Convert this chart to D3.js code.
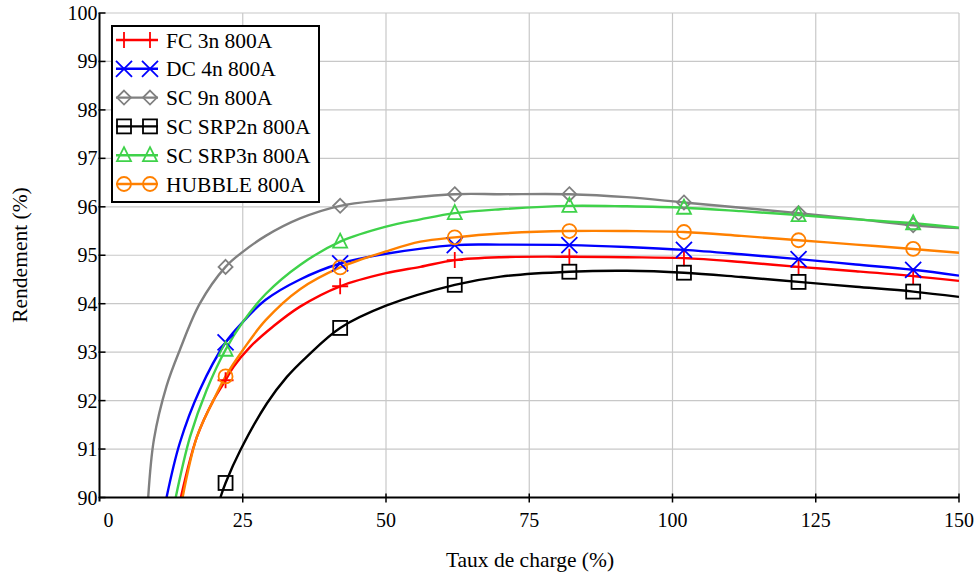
<!DOCTYPE html>
<html>
<head>
<meta charset="utf-8">
<script src="https://cdn.jsdelivr.net/npm/d3@7"></script>
<style>
  html, body { margin: 0; padding: 0; background: #fff; }
  svg { display: block; }
  svg text { font-family: "Liberation Serif", "DejaVu Serif", serif; }
</style>
</head>
<body>
<svg id="chart" width="980" height="574"></svg>
<script>
// ---- Data ----
const seriesNames = ["FC 3n 800A", "DC 4n 800A", "SC 9n 800A", "SC SRP2n 800A", "SC SRP3n 800A", "HUBBLE 800A"];
const seriesColors = ["#ff0000", "#0000ff", "#808080", "#000000", "#3fd24a", "#ff8000"];
const seriesMarkers = ["plus", "cross", "diamond", "square", "triangle", "circle"];
const markerX = [22, 42, 62, 82, 102, 122, 142];

const fc3n = [[14.2,90],[17,91.25],[19.9,92.01],[22,92.42],[23.4,92.7],[26.3,93.11],[30.3,93.53],[35,93.94],[42,94.36],[50,94.63],[56,94.76],[62,94.9],[70,94.96],[82,94.97],[92,94.96],[102,94.94],[112,94.86],[122,94.76],[132,94.67],[142,94.57],[150,94.47]];
const dc4n = [[11.7,90],[14,91.12],[17.5,92.22],[22,93.2],[25,93.62],[29,94.08],[35,94.5],[42,94.83],[50,95.03],[62,95.21],[70,95.22],[82,95.21],[92,95.17],[102,95.11],[112,95.02],[122,94.92],[132,94.81],[142,94.7],[150,94.58]];
const sc9n = [[8.5,90],[9.5,91.2],[11.7,92.3],[14,93.04],[17.5,94.0],[22,94.76],[25,95.07],[29,95.4],[35,95.76],[42,96.02],[50,96.14],[62,96.26],[70,96.26],[82,96.26],[92,96.2],[102,96.09],[112,95.98],[122,95.87],[132,95.75],[142,95.62],[150,95.56]];
const scSrp2n = [[21.1,90],[22,90.3],[24.6,90.98],[29.2,91.94],[32.7,92.49],[36.2,92.91],[42,93.5],[50,93.96],[62,94.39],[70,94.56],[82,94.66],[92,94.68],[102,94.64],[112,94.55],[122,94.45],[132,94.35],[142,94.25],[150,94.14]];
const scSrp3n = [[13.3,90],[15.8,91.25],[18.7,92.22],[22,93.05],[25,93.62],[29,94.2],[35,94.8],[42,95.28],[50,95.59],[56,95.74],[62,95.87],[70,95.95],[82,96.02],[92,96.01],[102,95.98],[112,95.91],[122,95.83],[132,95.74],[142,95.66],[150,95.57]];
const hubble = [[14.5,90],[17,91.25],[19.9,92.01],[22,92.5],[25,93.04],[29,93.66],[35,94.3],[42,94.75],[50,95.08],[56,95.28],[62,95.37],[70,95.45],[82,95.5],[92,95.5],[102,95.48],[112,95.4],[122,95.31],[132,95.22],[142,95.13],[150,95.05]];
const seriesData = [fc3n, dc4n, sc9n, scSrp2n, scSrp3n, hubble];

const xTicks = [0, 25, 50, 75, 100, 125, 150];
const yTicks = [90, 91, 92, 93, 94, 95, 96, 97, 98, 99, 100];
const xTitle = "Taux de charge (%)";
const yTitle = "Rendement (%)";

// ---- Layout ----
const FONT = "Liberation Serif";
const svg = d3.select("#chart");
const L = 99.5, R = 959, T = 13, B = 497.5;
const x = d3.scaleLinear().domain([0, 150]).range([L, R]);
const y = d3.scaleLinear().domain([90, 100]).range([B, T]);

// grid
const grid = svg.append("g");
grid.selectAll("line.gx").data(xTicks.slice(1)).enter().append("line")
  .attr("x1", d => x(d)).attr("x2", d => x(d)).attr("y1", T).attr("y2", B)
  .attr("stroke", "#c8c8c8").attr("stroke-width", 1.2);
grid.selectAll("line.gy").data(yTicks.slice(1)).enter().append("line")
  .attr("x1", L).attr("x2", R).attr("y1", d => y(d)).attr("y2", d => y(d))
  .attr("stroke", "#c8c8c8").attr("stroke-width", 1.2);

// clip
svg.append("clipPath").attr("id", "clip").append("rect")
  .attr("x", L).attr("y", T).attr("width", R - L).attr("height", B - T);

const line = d3.line().x(d => x(d[0])).y(d => y(d[1])).curve(d3.curveCatmullRom.alpha(0.5));
const plot = svg.append("g").attr("clip-path", "url(#clip)");
seriesData.forEach((data, i) => {
  plot.append("path").datum(data).attr("d", line)
    .attr("fill", "none").attr("stroke", seriesColors[i]).attr("stroke-width", 2.4)
    .attr("stroke-linejoin", "round");
});

function drawMarker(g, type, cx, cy, color) {
  const s = 7;
  const sw = 1.8;
  if (type === "plus") {
    g.append("path").attr("d", `M${cx-s-1},${cy}H${cx+s+1}M${cx},${cy-s-1}V${cy+s+1}`)
      .attr("stroke", color).attr("stroke-width", sw).attr("fill", "none");
  } else if (type === "cross") {
    g.append("path").attr("d", `M${cx-s-1},${cy-s-1}L${cx+s+1},${cy+s+1}M${cx-s-1},${cy+s+1}L${cx+s+1},${cy-s-1}`)
      .attr("stroke", color).attr("stroke-width", sw).attr("fill", "none");
  } else if (type === "diamond") {
    g.append("path").attr("d", `M${cx},${cy-s}L${cx+s},${cy}L${cx},${cy+s}L${cx-s},${cy}Z`)
      .attr("stroke", color).attr("stroke-width", sw).attr("fill", "none");
  } else if (type === "square") {
    g.append("rect").attr("x", cx - s).attr("y", cy - s).attr("width", 2*s).attr("height", 2*s)
      .attr("stroke", color).attr("stroke-width", sw).attr("fill", "none");
  } else if (type === "triangle") {
    g.append("path").attr("d", `M${cx},${cy-s-1}L${cx+s},${cy+s-1}L${cx-s},${cy+s-1}Z`)
      .attr("stroke", color).attr("stroke-width", sw).attr("fill", "none");
  } else if (type === "circle") {
    g.append("circle").attr("cx", cx).attr("cy", cy).attr("r", s)
      .attr("stroke", color).attr("stroke-width", sw).attr("fill", "none");
  }
}

const markers = svg.append("g");
seriesData.forEach((data, i) => {
  markerX.forEach(mx => {
    const pt = data.find(d => d[0] === mx);
    if (pt) drawMarker(markers, seriesMarkers[i], x(pt[0]), y(pt[1]), seriesColors[i]);
  });
});

// axes
const ax = svg.append("g");
ax.append("line").attr("x1", L).attr("x2", R).attr("y1", B).attr("y2", B)
  .attr("stroke", "#000").attr("stroke-width", 2);
ax.append("line").attr("x1", L).attr("x2", L).attr("y1", T).attr("y2", B + 4)
  .attr("stroke", "#000").attr("stroke-width", 2);
ax.selectAll("line.xt").data(xTicks.slice(1)).enter().append("line")
  .attr("x1", d => x(d)).attr("x2", d => x(d)).attr("y1", B - 4).attr("y2", B + 5)
  .attr("stroke", "#000").attr("stroke-width", 1.5);
ax.selectAll("line.yt").data(yTicks).enter().append("line")
  .attr("x1", L - 1).attr("x2", L + 6).attr("y1", d => y(d)).attr("y2", d => y(d))
  .attr("stroke", "#000").attr("stroke-width", 1.5);

ax.selectAll("text.xl").data(xTicks).enter().append("text")
  .attr("x", d => d === 0 ? x(d) + 9 : x(d)).attr("y", B + 29)
  .attr("text-anchor", "middle").attr("font-size", 20).attr("font-family", FONT).attr("fill", "#000")
  .text(d => d);
ax.selectAll("text.yl").data(yTicks).enter().append("text")
  .attr("x", L - 2).attr("y", d => y(d) + 7)
  .attr("text-anchor", "end").attr("font-size", 20).attr("font-family", FONT).attr("fill", "#000")
  .text(d => d);

svg.append("text").attr("x", 530).attr("y", 567).attr("text-anchor", "middle")
  .attr("font-size", 21.5).attr("font-family", FONT).attr("fill", "#000").text(xTitle);
svg.append("text").attr("transform", "translate(27,255) rotate(-90)").attr("text-anchor", "middle")
  .attr("font-size", 21.5).attr("font-family", FONT).attr("fill", "#000").text(yTitle);

// legend
const lg = svg.append("g");
lg.append("rect").attr("x", 112).attr("y", 26).attr("width", 207).attr("height", 176)
  .attr("fill", "#fff").attr("stroke", "#000").attr("stroke-width", 2);
seriesNames.forEach((name, i) => {
  const cy = 40 + i * 28.8;
  lg.append("line").attr("x1", 116).attr("x2", 158).attr("y1", cy).attr("y2", cy)
    .attr("stroke", seriesColors[i]).attr("stroke-width", 2.4);
  drawMarker(lg, seriesMarkers[i], 124, cy, seriesColors[i]);
  drawMarker(lg, seriesMarkers[i], 150, cy, seriesColors[i]);
  lg.append("text").attr("x", 166).attr("y", cy + 7.5).attr("font-size", 21.5).attr("font-family", FONT)
    .attr("fill", "#000").text(name);
});
</script>
</body>
</html>
